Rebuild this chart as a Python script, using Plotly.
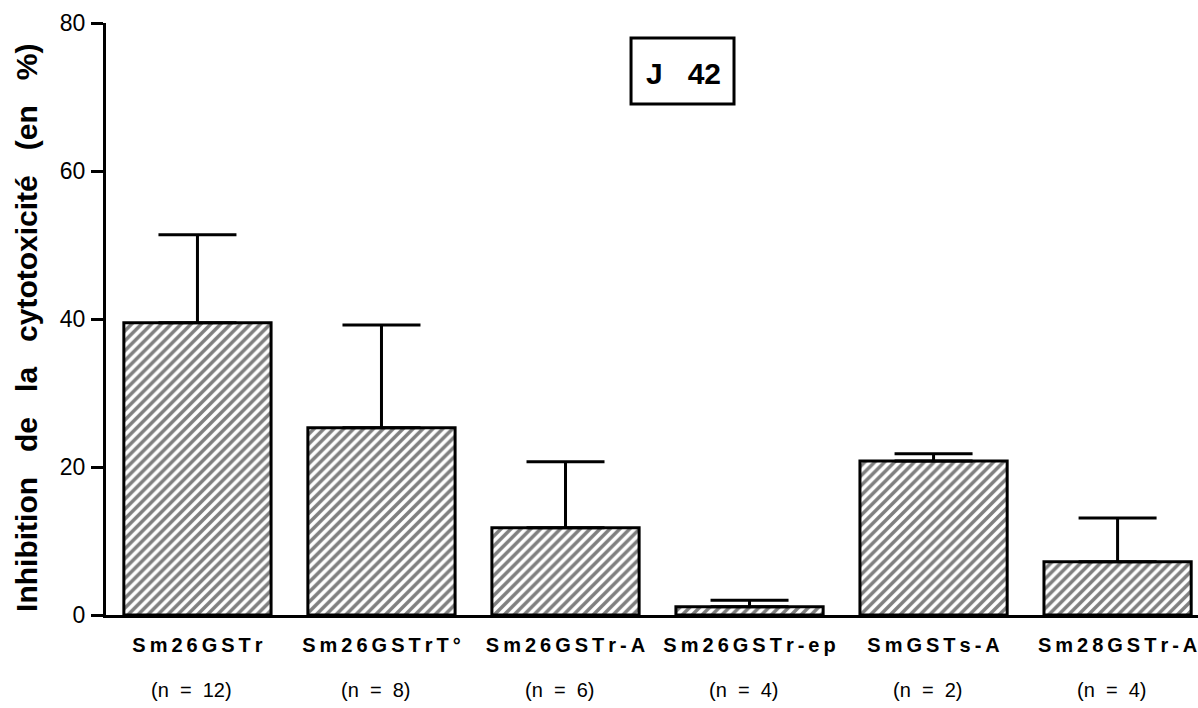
import plotly.graph_objects as go

# Antigen groups and sample sizes
categories = ["Sm26GSTr", "Sm26GSTrT°", "Sm26GSTr-A", "Sm26GSTr-ep", "SmGSTs-A", "Sm28GSTr-A"]
n_values = [12, 8, 6, 4, 2, 4]

# Mean inhibition of cytotoxicity (%) and upper error (%)
inhibition = [39.5, 25.3, 11.8, 1.1, 20.8, 7.2]
error_up = [11.9, 13.9, 8.9, 0.9, 1.0, 5.9]

y_ticks = [0, 20, 40, 60, 80]
panel_label = "J   42"

FONT = "Liberation Sans, Arial, Helvetica, sans-serif"
NB = "\u00a0"


def spaced(word, gap="\u2009"):
    return gap.join(word)


tick_text = [f"<b>{spaced(c)}</b>" for c in categories]

fig = go.Figure()
fig.add_trace(
    go.Bar(
        x=categories,
        y=inhibition,
        width=0.8,
        marker=dict(
            color="white",
            line=dict(color="black", width=3),
            pattern=dict(shape="/", size=7, solidity=0.5, fgcolor="black", bgcolor="white"),
        ),
        error_y=dict(
            type="data",
            symmetric=False,
            array=error_up,
            arrayminus=[0] * len(error_up),
            color="black",
            thickness=3,
            width=39,
        ),
        showlegend=False,
    )
)

fig.update_layout(
    width=1198,
    height=708,
    margin=dict(l=106, r=0, t=23, b=93),
    paper_bgcolor="white",
    plot_bgcolor="white",
    font=dict(family=FONT, color="black"),
    xaxis=dict(
        type="category",
        range=[-0.497, 5.437],
        tickvals=categories,
        ticktext=tick_text,
        tickfont=dict(size=20, family=FONT, color="black"),
        showline=True,
        linecolor="black",
        linewidth=3,
        ticks="",
        showgrid=False,
        zeroline=False,
        ticklabelstandoff=10,
    ),
    yaxis=dict(
        range=[0, 80],
        tickvals=y_ticks,
        tickfont=dict(size=23, family=FONT, color="black"),
        showline=True,
        linecolor="black",
        linewidth=3,
        ticks="outside",
        ticklen=12,
        tickwidth=3,
        tickcolor="black",
        showgrid=False,
        zeroline=False,
        ticklabelstandoff=1,
    ),
)

# Sample size under each group
for cat, n in zip(categories, n_values):
    fig.add_annotation(
        text=f"(n{NB}{NB}={NB}{NB}{n})",
        x=cat,
        xref="x",
        yref="paper",
        y=-0.1267,
        xanchor="center",
        yanchor="middle",
        xshift=-6,
        showarrow=False,
        font=dict(size=20, family=FONT, color="black"),
    )

# Y-axis title
gap = NB * 3
fig.add_annotation(
    text=f"<b>Inhibition{gap}de{gap}la{gap}cytotoxicité{gap}(en{gap}%)</b>",
    xref="paper",
    yref="paper",
    x=-0.0723,
    y=0.485,
    xanchor="center",
    yanchor="middle",
    textangle=-90,
    showarrow=False,
    font=dict(size=30, family=FONT, color="black"),
)

# Boxed panel label
fig.add_shape(
    type="rect",
    xref="paper",
    yref="paper",
    x0=0.4808,
    x1=0.5751,
    y0=0.8632,
    y1=0.9747,
    line=dict(color="black", width=3),
    fillcolor="white",
)
fig.add_annotation(
    text=f"<b>{panel_label.replace(' ', NB)}</b>",
    xref="paper",
    yref="paper",
    x=0.5284,
    y=0.9155,
    xanchor="center",
    yanchor="middle",
    showarrow=False,
    font=dict(size=30, family=FONT, color="black"),
)

fig.write_html("out.html")
